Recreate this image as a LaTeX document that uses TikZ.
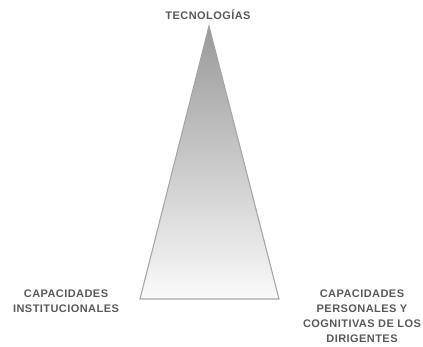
\documentclass[tikz,border=0pt]{standalone}
\usepackage{fontspec}
\setmainfont{Liberation Sans}
\usepackage{xcolor}
\usetikzlibrary{calc,
	positioning}
\newfontfamily\lblfont[LetterSpace=4]{Liberation Sans}
\definecolor{txtgray}{HTML}{595959}
\definecolor{edgegray}{HTML}{A6A6A6}
\definecolor{topgray}{HTML}{999999}
\definecolor{botgray}{HTML}{FAFAFA}
\tikzstyle{lbl}=[text=txtgray, font=\lblfont\bfseries\fontsize{11}{15}\selectfont,
		align=center, inner sep=0]
\tikzstyle{tri}=[draw=edgegray, line width=1.1pt, line join=miter,
		top color=topgray, bottom color=botgray]

\begin{document}
\begin{tikzpicture}[x=1pt, y=-1pt]
            \useasboundingbox (0,0) rectangle (423,347);
            \coordinate (apex) at (209,26);
            \coordinate (bl) at (140,299);
            \coordinate (br) at (279,299);
            \path[tri] (apex) -- (br) -- (bl) -- cycle;
            \node[lbl] (tec) at (208,15) {TECNOLOG\'IAS};
            \node[lbl, anchor=north] (inst) at (66,290) {CAPACIDADES\\INSTITUCIONALES};
            \node[lbl, anchor=north] (pers) at (362,290) {CAPACIDADES\\PERSONALES Y\\COGNITIVAS DE LOS\\DIRIGENTES};
        \end{tikzpicture}
\end{document}
